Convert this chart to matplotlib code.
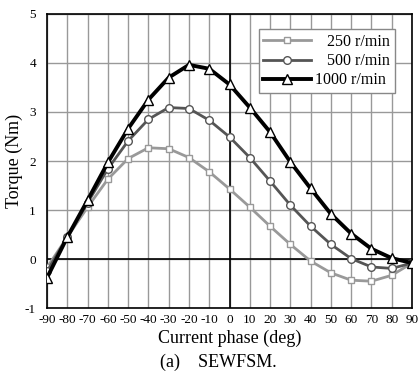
import numpy as np
import matplotlib.pyplot as plt

plt.rcParams['font.family'] = ['Liberation Serif', 'DejaVu Serif']
plt.rcParams['axes.unicode_minus'] = False

# Current phase (deg)
phase = [-90, -80, -70, -60, -50, -40, -30, -20, -10, 0,
         10, 20, 30, 40, 50, 60, 70, 80, 90]

# Torque (Nm) for each speed
t250 = [-0.17, 0.45, 1.06, 1.63, 2.05, 2.27, 2.25, 2.07, 1.78, 1.43,
        1.06, 0.67, 0.30, -0.04, -0.28, -0.43, -0.45, -0.33, -0.08]
t500 = [-0.25, 0.45, 1.15, 1.84, 2.41, 2.85, 3.09, 3.07, 2.83, 2.49,
        2.07, 1.59, 1.10, 0.67, 0.30, 0.01, -0.16, -0.19, -0.08]
t1000 = [-0.38, 0.45, 1.20, 1.97, 2.66, 3.25, 3.70, 3.96, 3.88, 3.56,
         3.09, 2.59, 1.98, 1.44, 0.92, 0.52, 0.21, 0.02, -0.08]

fig = plt.figure(figsize=(4.2, 3.74), dpi=100)
ax = fig.add_axes([0.112, 0.176, 0.869, 0.787])

# figure space in front so the labels line up on the right like the original
ax.plot(phase, t250, color='#999999', lw=2, marker='s', ms=5,
        mfc='white', mec='#999999', mew=1, label='\u2007 250 r/min', zorder=3)
ax.plot(phase, t500, color='#555555', lw=2, marker='o', ms=5.5,
        mfc='white', mec='#555555', mew=1, label='\u2007 500 r/min', zorder=4)
ax.plot(phase, t1000, color='black', lw=2.8, marker='^', ms=7,
        mfc='white', mec='black', mew=1, label='1000 r/min', zorder=5)

ax.set_xlim(-90, 90)
ax.set_ylim(-1, 5)
ax.set_xticks(phase)
ax.set_yticks(range(-1, 6))
ax.tick_params(axis='x', length=0, labelsize=9.5, pad=4)
ax.tick_params(axis='y', length=0, labelsize=9.5, pad=8)
ax.grid(True, color='#999999', lw=1)
ax.axhline(0, color='black', lw=1.2, zorder=2)
ax.axvline(0, color='black', lw=1.2, zorder=2)
for s in ax.spines.values():
    s.set_linewidth(1.2)

ax.set_xlabel('Current phase (deg)', fontsize=13, labelpad=3)
ax.set_ylabel('Torque (Nm)', fontsize=13)
ax.yaxis.set_label_coords(-0.065, 0.5)

leg = ax.legend(loc='upper right', fontsize=11.5, handlelength=3.0,
                borderpad=0.3, labelspacing=0.2, handletextpad=0.25,
                fancybox=False, edgecolor='#888888', framealpha=1,
                bbox_to_anchor=(0.975, 0.975))

fig.text(0.52, 0.018, '(a)    SEWFSM.', fontsize=13, ha='center')

fig.savefig('out.png', dpi=100)
